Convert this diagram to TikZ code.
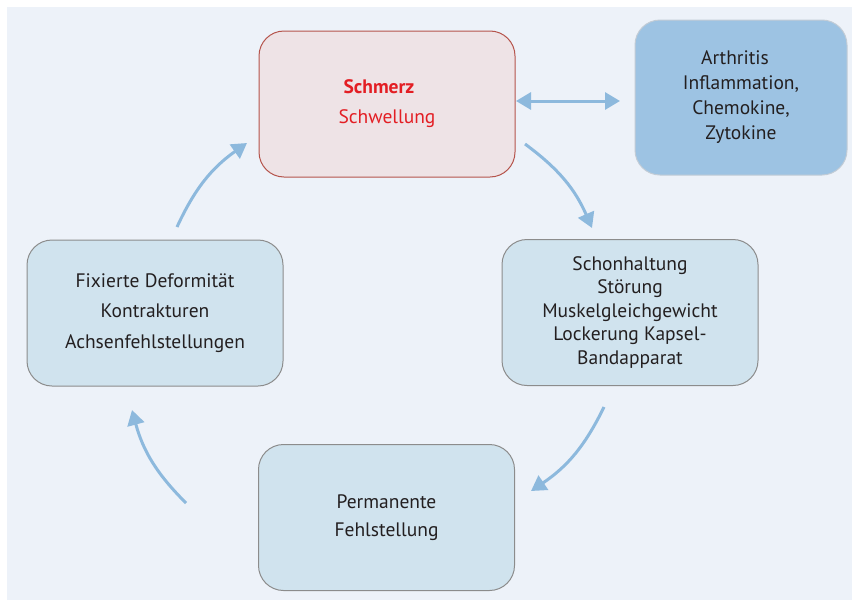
\documentclass[tikz,border=0pt]{standalone}
\usepackage{fontspec}
\setmainfont{PT Sans}
\usetikzlibrary{arrows.meta}
\definecolor{bg}{HTML}{EDF2F9}
\definecolor{boxblue}{HTML}{D0E3EE}
\definecolor{boxdark}{HTML}{9DC3E3}
\definecolor{boxpink}{HTML}{EEE3E6}
\definecolor{pinkline}{HTML}{B5544C}
\definecolor{greyline}{HTML}{8C8C8C}
\definecolor{lightline}{HTML}{C2CCD6}
\definecolor{arrowblue}{HTML}{8DB9DD}
\definecolor{txt}{HTML}{231F20}
\definecolor{redtxt}{HTML}{E31E24}
\begin{document}
\begin{tikzpicture}[x=1pt,y=-1pt,
  box/.style={draw=greyline, fill=boxblue, line width=1pt, rounded corners=25pt,
    minimum width=256pt, minimum height=146pt, inner sep=0pt, align=center, text=txt},
  flow/.style={draw=arrowblue, line width=3pt, -{Triangle[length=15pt,width=17pt]}},
  both/.style={draw=arrowblue, line width=3pt, {Triangle[length=15pt,width=17pt]}-{Triangle[length=15pt,width=17pt]}},
]
\useasboundingbox (0,0) rectangle (858,605);
\fill[bg] (7,7) rectangle (852,600);

\node[box, draw=pinkline, fill=boxpink, text=redtxt, font=\fontsize{19.5}{30}\selectfont]
  (schmerz) at (387,104) {\textbf{Schmerz}\hspace*{16pt}\\Schwellung};
\node[box, draw=lightline, fill=boxdark, minimum width=212pt, minimum height=155pt,
  font=\fontsize{19.5}{25}\selectfont]
  (arth) at (741,97.5) {Arthritis\hspace*{12pt}\\Inflammation,\\Chemokine,\\Zytokine};
\node[box, font=\fontsize{19.5}{30.5}\selectfont]
  (fix) at (155,313) {Fixierte Deformität\\Kontrakturen\\Achsenfehlstellungen};
\node[box, font=\fontsize{19.5}{23.5}\selectfont]
  (schon) at (630,312.5) {Schonhaltung\\Störung\\Muskelgleichgewicht\\Lockerung Kapsel-\\Bandapparat};
\node[box, font=\fontsize{19.5}{28}\selectfont]
  (perm) at (386.5,517.5) {Permanente\\Fehlstellung};

\coordinate (a1s) at (525,144);  \coordinate (a1e) at (592,228);
\coordinate (a2s) at (604,407);  \coordinate (a2e) at (531,491);
\coordinate (a3s) at (186,503);  \coordinate (a3e) at (132,410);
\coordinate (a4s) at (177,227);  \coordinate (a4e) at (247,143);
\coordinate (d1) at (516,101);   \coordinate (d2) at (620,101);

\draw[both] (d1) -- (d2);
\draw[flow] (a1s) to[bend left=15] (a1e);
\draw[flow] (a2s) to[bend left=15] (a2e);
\draw[flow] (a3s) to[bend left=15] (a3e);
\draw[flow] (a4s) to[bend left=15] (a4e);
\end{tikzpicture}
\end{document}
